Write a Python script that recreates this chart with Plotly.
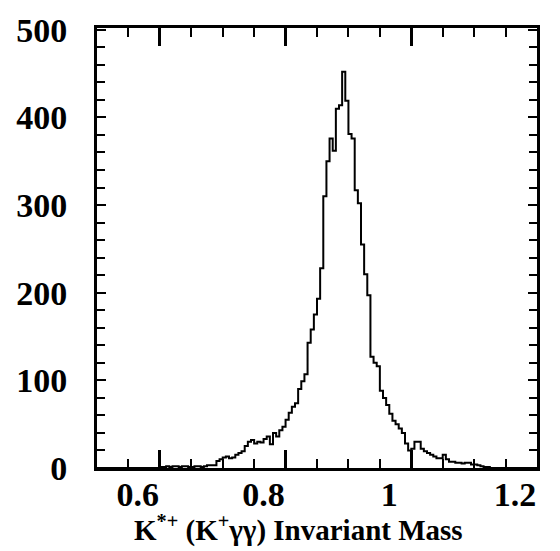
import plotly.graph_objects as go

# Histogram: bin low edge 0.5, bin width 0.005, 140 bins up to 1.2
bin_low = 0.5
bin_width = 0.005

counts = [
    # 0.500 - 0.600 (20 bins)
    0, 0, 0, 0, 0, 0, 0, 0, 0, 0,
    0, 0, 0, 0, 0, 0, 0, 0, 0, 0,
    # 0.600 - 0.700
    1, 1, 2, 1, 2, 2, 1, 2, 2, 1,
    1, 2, 2, 1, 2, 3, 3, 3, 8, 10,
    # 0.700 - 0.800
    12, 13, 11, 12, 15, 17, 19, 25, 30, 32,
    28, 30, 29, 33, 36, 27, 40, 36, 43, 47,
    # 0.800 - 0.900
    55, 63, 70, 74, 90, 99, 107, 143, 158, 175,
    193, 228, 310, 350, 376, 362, 410, 414, 452, 419,
    # 0.900 - 1.000
    381, 376, 317, 302, 255, 221, 197, 127, 120, 116,
    88, 80, 72, 62, 54, 50, 45, 40, 28, 20,
    # 1.000 - 1.100
    22, 30, 30, 22, 19, 17, 15, 13, 11, 11,
    15, 10, 7, 7, 6, 6, 5, 6, 6, 4,
    # 1.100 - 1.200
    4, 3, 2, 1, 1, 0, 0, 0, 0, 0,
    0, 0, 0, 0, 0, 0, 0, 0, 0, 0,
]

x_ticks = [0.6, 0.8, 1.0, 1.2]
x_ticklabels = ["0.6", "0.8", "1", "1.2"]
y_ticks = [0, 100, 200, 300, 400, 500]
y_ticklabels = ["0", "100", "200", "300", "400", "500"]

n = len(counts)
edges = [round(bin_low + i * bin_width, 4) for i in range(n + 1)]
xs = edges
ys = counts + [counts[-1]]

fig = go.Figure()
fig.add_trace(go.Scatter(
    x=xs, y=ys, mode="lines", line=dict(shape="hv", color="black", width=2),
    showlegend=False, hoverinfo="skip",
))

tickfont = dict(family="Liberation Serif", size=34, color="black", weight="bold")

fig.update_xaxes(
    range=[0.5, 1.2], showgrid=False, zeroline=False,
    showline=True, linecolor="black", linewidth=3, mirror="allticks",
    ticks="inside", ticklen=18, tickwidth=3, tickcolor="black",
    tickvals=x_ticks, ticktext=x_ticklabels, tickfont=tickfont,
    ticklabelstandoff=-6, ticklabelshift=-22,
    minor=dict(dtick=0.05, tick0=0.5, ticks="inside", ticklen=9, tickwidth=2, tickcolor="black"),
)
fig.update_yaxes(
    range=[0, 502], showgrid=False, zeroline=False,
    showline=True, linecolor="black", linewidth=3, mirror="allticks",
    ticks="inside", ticklen=9, tickwidth=2, tickcolor="black",
    tickvals=y_ticks, ticktext=y_ticklabels, tickfont=tickfont,
    ticklabelstandoff=20,
    minor=dict(dtick=20, tick0=0, ticks="inside", ticklen=8, tickwidth=2, tickcolor="black"),
)

fig.add_annotation(
    text="K<sup>*+</sup> (K<sup>+</sup>γγ) Invariant Mass",
    xref="paper", yref="paper", x=0.459, y=-0.137,
    xanchor="center", yanchor="middle", showarrow=False,
    font=dict(family="Liberation Serif", size=29, color="black", weight="bold"),
)

fig.update_layout(
    width=560, height=551,
    margin=dict(l=97, r=23, t=23, b=83),
    paper_bgcolor="white", plot_bgcolor="white",
)

fig.write_html("out.html")
